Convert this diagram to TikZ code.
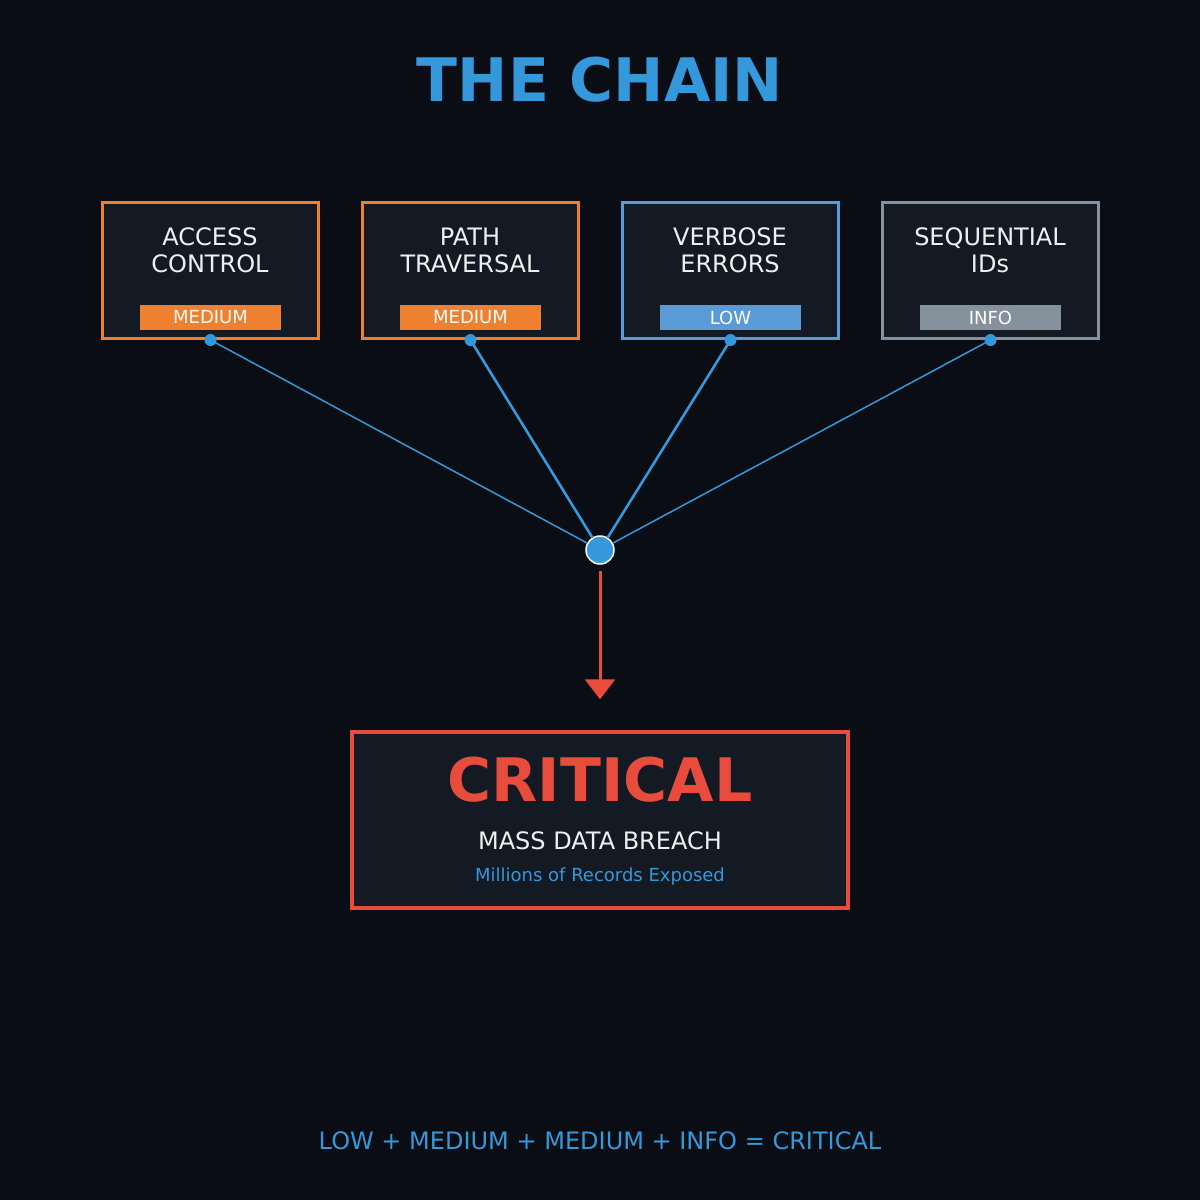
\documentclass[tikz,border=0pt]{standalone}
\usepackage{fontspec}
\setmainfont{DejaVu Sans}
\usetikzlibrary{arrows.meta}
\definecolor{bgc}{HTML}{0A0D14}
\definecolor{boxc}{HTML}{141A24}
\definecolor{orangec}{HTML}{EF8030}
\definecolor{lowc}{HTML}{5B9BD5}
\definecolor{infoc}{HTML}{85929E}
\definecolor{bluec}{HTML}{3498DB}
\definecolor{redc}{HTML}{E74C3C}
\definecolor{whitec}{HTML}{ECF0F1}
\tikzset{
  vulnbox/.style={draw=#1, fill=boxc, line width=3pt, minimum width=216pt, minimum height=136pt, inner sep=0pt},
  vulntext/.style={text=whitec, font=\fontsize{24}{27}\selectfont, anchor=base, inner sep=0pt},
  badge/.style={fill=#1, text=white, font=\fontsize{18}{20}\selectfont, minimum width=141pt, minimum height=25pt, inner sep=0pt},
  dotnode/.style={circle, fill=bluec, minimum size=12pt, inner sep=0pt},
  hubnode/.style={circle, fill=bluec, draw=white, line width=1.5pt, minimum size=28pt, inner sep=0pt},
  thinlink/.style={draw=bluec, line width=1.5pt},
  thicklink/.style={draw=bluec, line width=2.6pt},
  redarrow/.style={draw=redc, line width=3pt, -{Triangle[width=30pt,length=20pt]}},
}
\begin{document}
\begin{tikzpicture}[x=1pt,y=-1pt]
\fill[bgc] (0,0) rectangle (1200,1200);
\useasboundingbox (0,0) rectangle (1200,1200);

\node[text=bluec, font=\bfseries\fontsize{60}{65}\selectfont, anchor=base, inner sep=0pt] (title) at (600,101) {THE CHAIN};

% boxes
\node[vulnbox=orangec] (b1) at (210.5,270.5) {};
\node[vulnbox=orangec] (b2) at (470.5,270.5) {};
\node[vulnbox=lowc]    (b3) at (730.5,270.5) {};
\node[vulnbox=infoc]   (b4) at (990.5,270.5) {};

\node[vulntext] (t1a) at (210,245) {ACCESS};
\node[vulntext] (t1b) at (210,272) {CONTROL};
\node[vulntext] (t2a) at (470,245) {PATH};
\node[vulntext] (t2b) at (470,272) {TRAVERSAL};
\node[vulntext] (t3a) at (730,245) {VERBOSE};
\node[vulntext] (t3b) at (730,272) {ERRORS};
\node[vulntext] (t4a) at (990,245) {SEQUENTIAL};
\node[vulntext] (t4b) at (990,272) {IDs};

\node[badge=orangec] (s1) at (210.5,317.5) {MEDIUM};
\node[badge=orangec] (s2) at (470.5,317.5) {MEDIUM};
\node[badge=lowc]    (s3) at (730.5,317.5) {LOW};
\node[badge=infoc]   (s4) at (990.5,317.5) {INFO};

% hub and links
\node[hubnode] (hub) at (600,550) {};
\node[dotnode] (d1) at (b1.south) {};
\node[dotnode] (d2) at (b2.south) {};
\node[dotnode] (d3) at (b3.south) {};
\node[dotnode] (d4) at (b4.south) {};
\draw[thinlink]  (d1.center) -- (hub);
\draw[thicklink] (d2.center) -- (hub);
\draw[thicklink] (d3.center) -- (hub);
\draw[thinlink]  (d4.center) -- (hub);

% critical box
\node[draw=redc, fill=boxc, line width=3.5pt, minimum width=496pt, minimum height=176pt, inner sep=0pt] (crit) at (600,820) {};
\node[text=redc, font=\bfseries\fontsize{60}{65}\selectfont, anchor=base, inner sep=0pt] (critt) at (600,801) {CRITICAL};
\node[text=whitec, font=\fontsize{24}{27}\selectfont, anchor=base, inner sep=0pt] (mass) at (600,849) {MASS DATA BREACH};
\node[text=bluec, font=\fontsize{18}{20}\selectfont, anchor=base, inner sep=0pt] (mill) at (600,881) {Millions of Records Exposed};

\draw[redarrow] ([yshift=-6pt]hub.south) -- ([yshift=31pt]crit.north);

\node[text=bluec, font=\fontsize{24}{28}\selectfont, anchor=base, inner sep=0pt] (eq) at (600,1149) {LOW + MEDIUM + MEDIUM + INFO = CRITICAL};
\end{tikzpicture}
\end{document}
